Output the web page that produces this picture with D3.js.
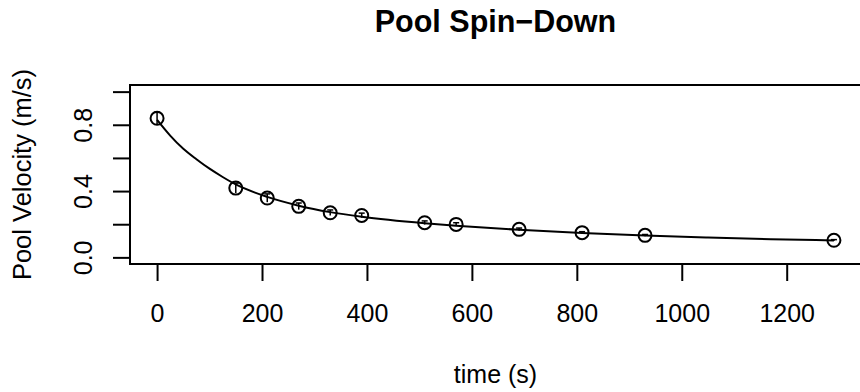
<!DOCTYPE html>
<html>
<head>
<meta charset="utf-8">
<script src="https://cdn.jsdelivr.net/npm/d3@7"></script>
<style>
  body { margin: 0; background: #fff; }
  text { font-family: "Liberation Sans", Arial, Helvetica, sans-serif; fill: #000; }
</style>
</head>
<body>
<script>
// Measured points
var times = [0, 150, 210, 270, 330, 390, 510, 570, 690, 810, 930, 1290];
var velocities = [0.839, 0.418, 0.358, 0.308, 0.269, 0.253, 0.209, 0.199, 0.169, 0.149, 0.133, 0.103];
var errors = [0.036, 0.03, 0.025, 0.02, 0.017, 0.014, 0.011, 0.01, 0.008, 0.006, 0.005, 0.004];

// Fitted curve
var curveTimes = [0, 25, 50, 75, 100, 125, 150, 210, 270, 330, 390, 510, 570, 690, 810, 930, 1050, 1170, 1290];
var curveValues = [0.83, 0.735, 0.655, 0.592, 0.535, 0.485, 0.44, 0.365, 0.312, 0.273, 0.245, 0.206, 0.191, 0.166, 0.147, 0.132, 0.12, 0.11, 0.102];

// Axis ticks
var xTicks = [0, 200, 400, 600, 800, 1000, 1200];
var yTicks = [0, 0.2, 0.4, 0.6, 0.8, 1.0];
var yLabels = [0, 0.4, 0.8];

var width = 860, height = 392;
var plotLeft = 130, plotRight = 861, plotTop = 85, plotBottom = 264;

var svg = d3.select('body').append('svg').attr('width', width).attr('height', height);

var x = d3.scaleLinear().domain([-51.6, 1341.6]).range([plotLeft, plotRight]);
var y = d3.scaleLinear().domain([-0.04, 1.04]).range([plotBottom, plotTop]);

// Title
svg.append('text')
  .attr('x', (plotLeft + plotRight) / 2)
  .attr('y', 32)
  .attr('text-anchor', 'middle')
  .style('font-size', '30.5px')
  .style('font-weight', 'bold')
  .text('Pool Spin\u2212Down');

// Plot box
svg.append('rect')
  .attr('x', plotLeft).attr('y', plotTop)
  .attr('width', plotRight - plotLeft).attr('height', plotBottom - plotTop)
  .attr('fill', 'none').attr('stroke', '#000').attr('stroke-width', 2);

// X axis
var xAxis = svg.append('g')
  .attr('transform', 'translate(0,' + plotBottom + ')')
  .call(d3.axisBottom(x).tickValues(xTicks).tickSize(17).tickFormat(d3.format('d')));
xAxis.select('.domain').attr('d', 'M' + x(xTicks[0]) + ',0H' + x(xTicks[xTicks.length - 1])).attr('stroke-width', 2);
xAxis.selectAll('.tick line').attr('stroke-width', 2);
xAxis.selectAll('.tick text').style('font-size', '25px').attr('dy', null).attr('y', 58);

// Y axis
var yAxis = svg.append('g')
  .attr('transform', 'translate(' + plotLeft + ',0)')
  .call(d3.axisLeft(y).tickValues(yTicks).tickSize(17).tickFormat(function (d) {
    return yLabels.indexOf(d) >= 0 ? d3.format('.1f')(d) : '';
  }));
yAxis.select('.domain').attr('d', 'M0,' + y(0) + 'V' + y(1)).attr('stroke-width', 2);
yAxis.selectAll('.tick line').attr('stroke-width', 2);
yAxis.selectAll('.tick text')
  .style('font-size', '25px')
  .attr('x', null).attr('dy', null)
  .attr('text-anchor', 'middle')
  .attr('transform', 'translate(-38,0) rotate(-90)');

// Axis titles
svg.append('text')
  .attr('x', (plotLeft + plotRight) / 2)
  .attr('y', 383)
  .attr('text-anchor', 'middle')
  .style('font-size', '25px')
  .text('time (s)');

svg.append('text')
  .attr('transform', 'translate(31,' + (plotTop + plotBottom) / 2 + ') rotate(-90)')
  .attr('text-anchor', 'middle')
  .style('font-size', '25.5px')
  .text('Pool Velocity (m/s)');

// Fitted curve
var line = d3.line()
  .x(function (d, i) { return x(curveTimes[i]); })
  .y(function (d) { return y(d); })
  .curve(d3.curveMonotoneX);

svg.append('path')
  .datum(curveValues)
  .attr('d', line)
  .attr('fill', 'none')
  .attr('stroke', '#000')
  .attr('stroke-width', 2);

// Points with small error bars
var pts = svg.append('g').selectAll('g')
  .data(times)
  .enter()
  .append('g');

pts.append('line')
  .attr('x1', function (d) { return x(d); })
  .attr('x2', function (d) { return x(d); })
  .attr('y1', function (d, i) { return y(velocities[i] - errors[i]); })
  .attr('y2', function (d, i) { return y(velocities[i] + errors[i]); })
  .attr('stroke', '#000').attr('stroke-width', 1.5);

pts.append('line')
  .attr('x1', function (d) { return x(d) - 3; })
  .attr('x2', function (d) { return x(d) + 3; })
  .attr('y1', function (d, i) { return y(velocities[i] + errors[i]); })
  .attr('y2', function (d, i) { return y(velocities[i] + errors[i]); })
  .attr('stroke', '#000').attr('stroke-width', 1.5);

pts.append('circle')
  .attr('cx', function (d) { return x(d); })
  .attr('cy', function (d, i) { return y(velocities[i]); })
  .attr('r', 6.5)
  .attr('fill', 'none')
  .attr('stroke', '#000')
  .attr('stroke-width', 2);
</script>
</body>
</html>
